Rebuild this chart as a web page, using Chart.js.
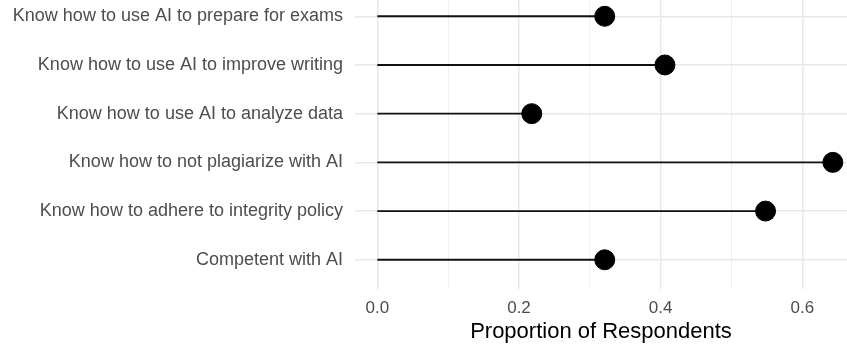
<!DOCTYPE html>
<html lang="en">
<head>
    <meta charset="UTF-8">
    <title>Lollipop chart</title>
    <script src="https://cdn.jsdelivr.net/npm/chart.js"></script>
    <style>
        body { margin: 0; background: #fff; }
    </style>
</head>
<body>
    <canvas id="myChart" width="847" height="346"></canvas>
    <script>
        // top to bottom, as in the picture
        const categories = [
            'Know how to use AI to prepare for exams',
            'Know how to use AI to improve writing',
            'Know how to use AI to analyze data',
            'Know how to not plagiarize with AI',
            'Know how to adhere to integrity policy',
            'Competent with AI'
        ];
        const proportions = [0.321, 0.406, 0.218, 0.643, 0.548, 0.321];
        const xTicks = [0, 0.1, 0.2, 0.3, 0.4, 0.5, 0.6];
        const xLabels = ['0.0', '', '0.2', '', '0.4', '', '0.6'];

        const font = "'Liberation Sans', Arial, sans-serif";

        // one line per category, from 0 to the value
        const stems = categories.map((c, i) => ({
            type: 'line',
            data: [{ x: 0, y: i }, { x: proportions[i], y: i }],
            borderColor: '#111',
            borderWidth: 1.9,
            pointRadius: 0,
            clip: false
        }));

        const dots = {
            type: 'scatter',
            data: categories.map((c, i) => ({ x: proportions[i], y: i })),
            backgroundColor: '#000',
            borderColor: '#000',
            pointRadius: 10,
            pointHoverRadius: 10,
            clip: false
        };

        // no overflow padding from the tick labels, the panel runs to the edges
        function noPad(s) {
            s.paddingTop = 0;
            s.paddingBottom = 0;
            s.paddingLeft = 0;
            s.paddingRight = 0;
        }

        const ctx = document.getElementById('myChart').getContext('2d');
        const myChart = new Chart(ctx, {
            type: 'scatter',
            data: { datasets: [dots].concat(stems) },
            options: {
                responsive: false,
                animation: false,
                layout: { padding: 0, autoPadding: false },
                plugins: { legend: { display: false }, tooltip: { enabled: false } },
                scales: {
                    x: {
                        type: 'linear',
                        min: -0.0315,
                        max: 0.663,
                        afterBuildTicks: s => { s.ticks = xTicks.map(v => ({ value: v })); },
                        afterFit: s => { s.height = 57; noPad(s); },
                        border: { display: false },
                        grid: {
                            drawTicks: false,
                            color: c => (c.index % 2 === 0 ? '#e8e8e8' : '#f0f0f0'),
                            lineWidth: c => (c.index % 2 === 0 ? 1.5 : 1)
                        },
                        ticks: {
                            padding: 9,
                            color: '#4d4d4d',
                            font: { family: font, size: 17 },
                            callback: (v, i) => xLabels[i]
                        },
                        title: {
                            display: true,
                            text: 'Proportion of Respondents',
                            color: '#000',
                            font: { family: font, size: 22 },
                            padding: { top: 0, bottom: 1 }
                        }
                    },
                    y: {
                        type: 'linear',
                        reverse: true,
                        min: -0.334,
                        max: 5.6,
                        afterBuildTicks: s => { s.ticks = categories.map((c, i) => ({ value: i })); },
                        afterFit: s => { s.width = 355; noPad(s); },
                        border: { display: false },
                        grid: { drawTicks: false, color: '#e8e8e8', lineWidth: 1.5 },
                        ticks: {
                            padding: 12,
                            color: '#4d4d4d',
                            font: { family: font, size: 18 },
                            callback: (v, i) => categories[i]
                        }
                    }
                }
            }
        });
    </script>
</body>
</html>
